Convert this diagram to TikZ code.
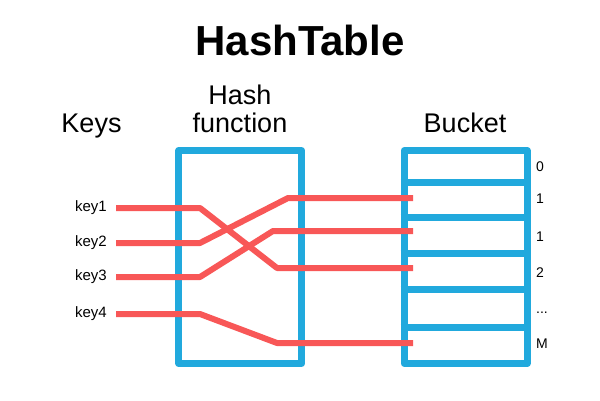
\documentclass[tikz,border=0pt]{standalone}
\usepackage{fontspec}
\setmainfont{Liberation Sans}
\usetikzlibrary{positioning}
\definecolor{boxblue}{RGB}{33,169,221}
\definecolor{linered}{RGB}{248,87,87}

\begin{document}
\begin{tikzpicture}
	[line cap=butt,line join=round,x=1pt,y=-1pt,
	 heading/.style={anchor=base,inner sep=0pt,font=\fontsize{27}{28}\selectfont},
	 keylabel/.style={anchor=east,inner xsep=9pt,inner ysep=0pt,font=\fontsize{15}{18}\selectfont},
	 slotlabel/.style={anchor=base west,inner sep=0pt,font=\fontsize{14}{16}\selectfont},
	 bluebox/.style={draw=boxblue,line width=7pt,minimum width=123pt,minimum height=213pt,inner sep=0pt},
	 keyline/.style={draw=linered,line width=6pt}]
	\useasboundingbox (0,0) rectangle (600,400);
	\node[anchor=base,inner sep=0pt,font=\fontsize{42}{50}\selectfont\bfseries] (title) at (300,55) {HashTable};
	\node[heading] (keys) at (91.5,132) {Keys};
	\node[heading,align=center] (hashname) at (240,132) {Hash\\function};
	\node[heading] (bucketname) at (465,132) {Bucket};
	% boxes
	\node[bluebox] (hashbox) at (240.25,257) {};
	\node[bluebox] (bucket) at (465.5,257) {};
	\foreach \y in {182.7,217.5,253,289,327.5}
		\draw[boxblue,line width=7pt] (bucket.west |- 0,\y) -- (bucket.east |- 0,\y);
	% slot numbers
	\node[slotlabel] (n0) at (536,171) {0};
	\node[slotlabel] (n1) at (536,203) {1};
	\node[slotlabel] (n2) at (536,241) {1};
	\node[slotlabel] (n3) at (536,277) {2};
	\node[slotlabel] (n4) at (536,313) {...};
	\node[slotlabel] (n5) at (536,348) {M};
	% keys
	\node[keylabel] (key1) at (116,208) {key1};
	\node[keylabel] (key2) at (116,243) {key2};
	\node[keylabel] (key3) at (116,277) {key3};
	\node[keylabel] (key4) at (116,314) {key4};
	\coordinate (slot1) at (413,198);
	\coordinate (slot2) at (413,231);
	\coordinate (slot3) at (413,268);
	\coordinate (slotM) at (413,343);
	\draw[keyline] (key1.east) -- (200,208) -- (277,268) -- (slot3);
	\draw[keyline] (key2.east) -- (200,243) -- (288,198) -- (slot1);
	\draw[keyline] (key3.east) -- (200,277) -- (273,231) -- (slot2);
	\draw[keyline] (key4.east) -- (200,314) -- (277,343) -- (slotM);
\end{tikzpicture}
\end{document}
